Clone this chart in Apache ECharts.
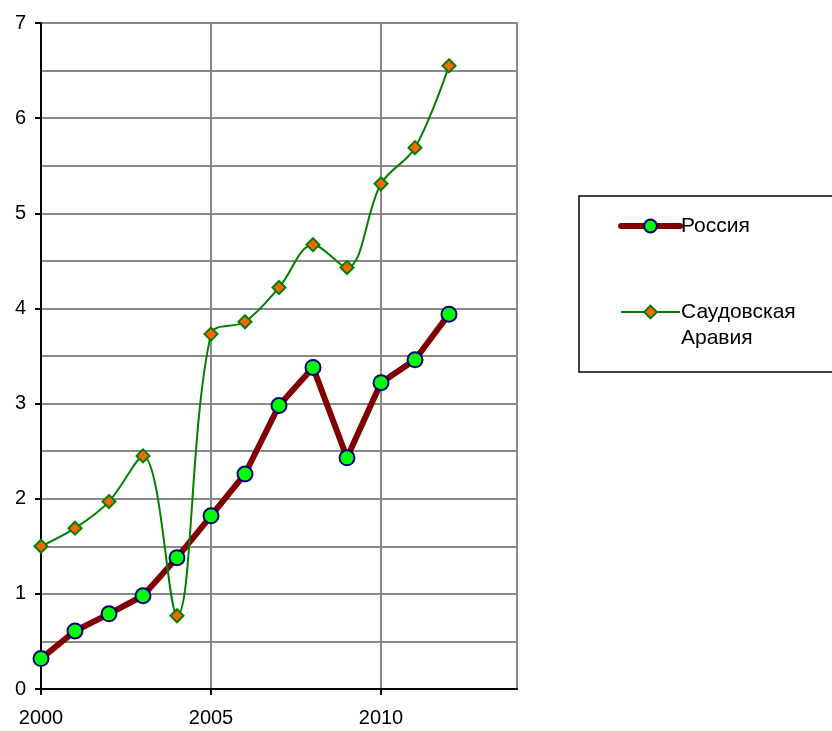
<!DOCTYPE html>
<html>
<head>
<meta charset="utf-8">
<script src="https://cdn.jsdelivr.net/npm/echarts@6/dist/echarts.min.js"></script>
<style>
  html, body { margin: 0; padding: 0; background: #fff; }
  #chart { width: 832px; height: 731px; }
</style>
</head>
<body>
<div id="chart"></div>
<script>
// годы и значения
const years = [2000, 2001, 2002, 2003, 2004, 2005, 2006, 2007, 2008, 2009, 2010, 2011, 2012];
const russia = [0.32, 0.61, 0.79, 0.98, 1.38, 1.82, 2.26, 2.98, 3.38, 2.43, 3.22, 3.46, 3.94];
const saudi = [1.50, 1.69, 1.97, 2.45, 0.77, 3.73, 3.86, 4.22, 4.67, 4.43, 5.31, 5.69, 6.55];
const seriesNames = ['Россия', 'Саудовская Аравия'];

const chart = echarts.init(document.getElementById('chart'));

const option = {
  animation: false,
  textStyle: { fontFamily: 'Liberation Sans, Arial, sans-serif' },
  grid: {
    left: 41, top: 23, width: 476, height: 666,
    show: true, borderColor: '#888', borderWidth: 2
  },
  graphic: [{
    type: 'rect',
    shape: { x: 579, y: 196, width: 270, height: 176 },
    style: { fill: '#fff', stroke: '#000', lineWidth: 1.5 },
    z: 0
  }],
  legend: {
    orient: 'vertical',
    left: 613, top: 208,
    itemWidth: 59, itemHeight: 16,
    itemGap: 34,
    textStyle: { fontSize: 21, color: '#000', padding: [0, 0, 0, -4], lineHeight: 26 },
    // пустая первая строка, чтобы значок стоял напротив "Саудовская"
    formatter: function (name) {
      return name === 'Саудовская Аравия' ? '\u00a0\nСаудовская\nАравия' : name;
    },
    data: [
      { name: seriesNames[0], lineStyle: { width: 6, cap: 'round' } },
      { name: seriesNames[1], lineStyle: { width: 2 } }
    ],
    z: 5
  },
  xAxis: {
    type: 'value',
    min: 2000, max: 2014, interval: 5,
    axisLine: { show: true, onZero: false, lineStyle: { color: '#000', width: 2 } },
    axisTick: { show: true, length: 6, lineStyle: { color: '#000', width: 2 } },
    axisLabel: {
      fontSize: 20, color: '#000', margin: 19,
      showMaxLabel: false,
      formatter: v => String(v)
    },
    splitLine: { show: true, lineStyle: { color: '#888', width: 2 } }
  },
  yAxis: {
    type: 'value',
    min: 0, max: 7, interval: 1,
    axisLine: { show: true, lineStyle: { color: '#000', width: 2 } },
    axisTick: { show: true, length: 6, lineStyle: { color: '#000', width: 2 } },
    axisLabel: { fontSize: 20, color: '#000', margin: 15 },
    splitLine: { show: true, lineStyle: { color: '#888', width: 2 } },
    minorTick: { show: false, splitNumber: 2 },
    minorSplitLine: { show: true, lineStyle: { color: '#888', width: 2 } }
  },
  series: [
    {
      name: seriesNames[0],
      type: 'line',
      data: years.map((y, i) => [y, russia[i]]),
      lineStyle: { color: '#800000', width: 6 },
      symbol: 'circle', symbolSize: 15,
      itemStyle: { color: '#00ff00', borderColor: '#000080', borderWidth: 2 },
      z: 3
    },
    {
      name: seriesNames[1],
      type: 'line',
      smooth: 0.35,
      data: years.map((y, i) => [y, saudi[i]]),
      lineStyle: { color: '#008000', width: 2 },
      symbol: 'diamond', symbolSize: 13,
      itemStyle: { color: '#ff6600', borderColor: '#008000', borderWidth: 2 },
      z: 4
    }
  ]
};

chart.setOption(option);
</script>
</body>
</html>
